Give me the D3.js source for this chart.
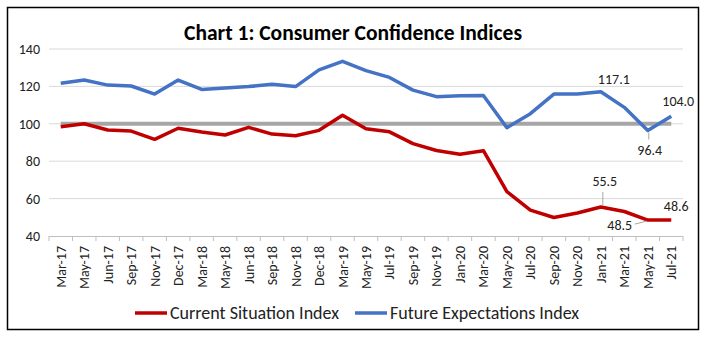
<!DOCTYPE html>
<html>
<head>
<meta charset="utf-8">
<script src="https://d3js.org/d3.v7.min.js"></script>
<style>
  body { margin: 0; background: #fff; }
  svg text { font-family: Carlito, Lato, "Open Sans", sans-serif; fill: #222; }
</style>
</head>
<body>
<svg id="chart" width="706" height="340"></svg>
<script>
// survey rounds
var months = ["Mar-17","May-17","Jun-17","Sep-17","Nov-17","Dec-17","Mar-18","May-18","Jun-18",
  "Sep-18","Nov-18","Dec-18","Mar-19","May-19","Jul-19","Sep-19","Nov-19","Jan-20","Mar-20",
  "May-20","Jul-20","Sep-20","Nov-20","Jan-21","Mar-21","May-21","Jul-21"];

var currentSituation = [98.4,100.0,96.7,96.1,91.7,97.6,95.6,94.0,98.1,94.5,93.6,96.5,104.6,97.3,
  95.7,89.4,85.7,83.7,85.6,63.7,53.8,49.9,52.3,55.5,53.1,48.5,48.6];

var futureExpectations = [121.7,123.4,120.7,120.2,115.9,123.4,118.4,119.1,119.9,121.1,119.9,128.8,
  133.4,128.4,124.8,118.0,114.5,115.0,115.1,97.9,105.4,115.9,115.9,117.1,108.8,96.4,104.0];

var yTicks = [40, 60, 80, 100, 120, 140];

var svg = d3.select("#chart");

// outer frame
svg.append("rect").attr("x", 7.5).attr("y", 7.5).attr("width", 691).attr("height", 322)
  .attr("fill", "none").attr("stroke", "#000").attr("stroke-width", 1.5);

svg.append("text").attr("x", 353).attr("y", 40).attr("text-anchor", "middle")
  .style("font-size", "21.5px").style("font-weight", "bold").style("fill", "#000")
  .text("Chart 1: Consumer Confidence Indices");

var x = d3.scaleBand().domain(months).range([49, 683]);
var y = d3.scaleLinear().domain([40, 140]).range([236, 49]);
var cx = function(d) { return x(d) + x.bandwidth() / 2; };

// gridlines
svg.append("g").selectAll("line").data(yTicks.slice(1)).join("line")
  .attr("x1", 49).attr("x2", 683)
  .attr("y1", function(d) { return y(d); }).attr("y2", function(d) { return y(d); })
  .attr("stroke", "#d9d9d9").attr("stroke-width", 1);

svg.append("g").selectAll("text").data(yTicks).join("text")
  .attr("x", 40).attr("y", function(d) { return y(d) + 5; })
  .attr("text-anchor", "end").style("font-size", "14px")
  .text(function(d) { return d; });

// x axis with ticks on band edges
var xa = svg.append("g");
xa.append("line").attr("x1", 49).attr("x2", 683).attr("y1", 236.5).attr("y2", 236.5)
  .attr("stroke", "#bfbfbf");
xa.selectAll("line.tk").data(months.concat(["end"])).join("line").attr("class", "tk")
  .attr("x1", function(d) { return d === "end" ? 683 : x(d); })
  .attr("x2", function(d) { return d === "end" ? 683 : x(d); })
  .attr("y1", 236).attr("y2", 241).attr("stroke", "#bfbfbf");
xa.selectAll("text").data(months).join("text")
  .attr("transform", function(d) { return "translate(" + (cx(d) + 5) + ",246) rotate(-90)"; })
  .attr("text-anchor", "end").style("font-size", "14px")
  .text(function(d) { return d; });

// reference line at 100
svg.append("line").attr("x1", cx(months[0])).attr("x2", cx(months[months.length - 1]))
  .attr("y1", y(100)).attr("y2", y(100)).attr("stroke", "#a6a6a6").attr("stroke-width", 4);

var line = d3.line().x(function(d, i) { return cx(months[i]); }).y(function(d) { return y(d); });

svg.append("path").datum(currentSituation).attr("d", line)
  .attr("fill", "none").attr("stroke", "#c00000").attr("stroke-width", 3.5)
  .attr("stroke-linejoin", "round");
svg.append("path").datum(futureExpectations).attr("d", line)
  .attr("fill", "none").attr("stroke", "#4472c4").attr("stroke-width", 3.5)
  .attr("stroke-linejoin", "round");

// data labels
var lbl = function(series, m, dx, dy) {
  var i = months.indexOf(m);
  svg.append("text").attr("x", cx(m) + dx).attr("y", y(series[i]) + dy)
    .attr("text-anchor", "middle").style("font-size", "14px")
    .text(series[i].toFixed(1));
};
lbl(futureExpectations, "Jan-21", 13, -8);
lbl(futureExpectations, "Jul-21", 7, -10);
lbl(futureExpectations, "May-21", 2, 24);
lbl(currentSituation, "Jan-21", 4, -21);
lbl(currentSituation, "Jul-21", 5, -9);
lbl(currentSituation, "May-21", -28, 10);

// leader lines
var ld = svg.append("g").attr("stroke", "#a6a6a6").attr("stroke-width", 1).attr("fill", "none");
ld.append("path").attr("d", "M" + (cx("May-21") + 1) + "," + (y(96.4) + 2) + "V" + (y(96.4) + 9));
ld.append("path").attr("d", "M" + (cx("Jan-21") + 2) + "," + (y(55.5) - 2) + "V" + (y(55.5) - 15));
ld.append("path").attr("d", "M" + (cx("May-21") - 13) + "," + (y(48.5) + 4) + "L" + (cx("May-21") - 1) + "," + (y(48.5) + 1));

// legend
var legend = [["Current Situation Index", "#c00000", 135], ["Future Expectations Index", "#4472c4", 355]];
var lg = svg.append("g").selectAll("g").data(legend).join("g");
lg.append("line").attr("x1", function(d) { return d[2]; }).attr("x2", function(d) { return d[2] + 32; })
  .attr("y1", 313).attr("y2", 313).attr("stroke", function(d) { return d[1]; }).attr("stroke-width", 3.5);
lg.append("text").attr("x", function(d) { return d[2] + 35; }).attr("y", 319)
  .style("font-size", "18px").text(function(d) { return d[0]; });
</script>
</body>
</html>
